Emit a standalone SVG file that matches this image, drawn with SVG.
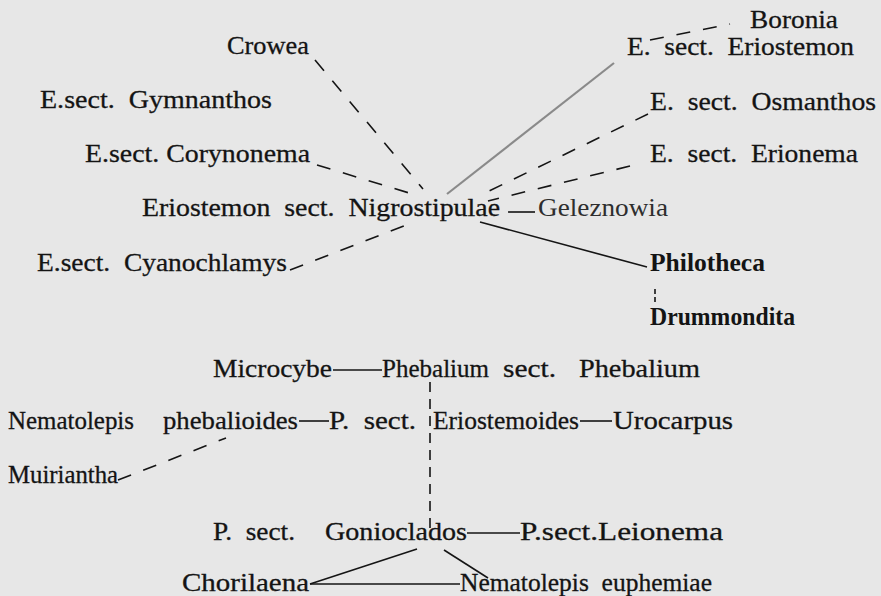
<svg xmlns="http://www.w3.org/2000/svg" width="881" height="596" viewBox="0 0 881 596">
<style>
text{font-family:"Liberation Serif","Times New Roman",serif;font-size:26px;fill:#141414;stroke:#141414;stroke-width:0.3;white-space:pre}
.b{font-weight:bold;stroke-width:0}
.l{fill:#2e2e2e;stroke-width:0}
.c{stroke:#151515;stroke-width:1.6;fill:none}
.d{stroke-dasharray:14 13}
.g{stroke:#8a8a8a;stroke-width:2.2}
</style>
<rect width="881" height="596" fill="#e7e7e7"/>
<g id="connectors">
<line class="c d" x1="315" y1="60" x2="423" y2="189"/>
<line class="c d" x1="317" y1="165" x2="419" y2="196"/>
<line class="c d" x1="290" y1="270" x2="414" y2="222"/>
<line class="c g" x1="447" y1="194" x2="614" y2="63"/>
<line class="c d" x1="650" y1="40" x2="730" y2="24"/>
<line class="c d" x1="648" y1="114" x2="485" y2="193"/>
<line class="c d" x1="630" y1="166" x2="488" y2="201"/>
<line class="c" x1="508" y1="212" x2="535" y2="212"/>
<line class="c" x1="480" y1="222" x2="647" y2="267"/>
<line class="c" x1="655" y1="289" x2="655" y2="302" stroke-dasharray="5 3"/>
<line class="c" x1="333" y1="370" x2="382" y2="370"/>
<line class="c" x1="430" y1="382" x2="430" y2="528" stroke-dasharray="10 7"/>
<line class="c" x1="299" y1="421" x2="329" y2="421"/>
<line class="c" x1="580" y1="421" x2="612" y2="421"/>
<line class="c d" x1="118" y1="480" x2="226" y2="438"/>
<line class="c" x1="467" y1="533" x2="520" y2="533"/>
<line class="c" x1="417" y1="549" x2="310" y2="584"/>
<line class="c" x1="444" y1="550" x2="488" y2="578"/>
<line class="c" x1="310" y1="584" x2="460" y2="584"/>
</g>
<g id="boronia"><text x="750" y="28" textLength="88" lengthAdjust="spacingAndGlyphs">Boronia</text></g>
<g id="eriostemon"><text x="627" y="55" textLength="227" lengthAdjust="spacingAndGlyphs">E.  sect.  Eriostemon</text></g>
<g id="crowea"><text x="227" y="54" textLength="82" lengthAdjust="spacingAndGlyphs">Crowea</text></g>
<g id="gymnanthos"><text x="40" y="108" textLength="232" lengthAdjust="spacingAndGlyphs">E.sect.  Gymnanthos</text></g>
<g id="osmanthos"><text x="650" y="110" textLength="226" lengthAdjust="spacingAndGlyphs">E.  sect.  Osmanthos</text></g>
<g id="corynonema"><text x="85" y="162" textLength="225" lengthAdjust="spacingAndGlyphs">E.sect. Corynonema</text></g>
<g id="erionema"><text x="650" y="162" textLength="208" lengthAdjust="spacingAndGlyphs">E.  sect.  Erionema</text></g>
<g id="nigrostipulae"><text x="142" y="216" textLength="358" lengthAdjust="spacingAndGlyphs">Eriostemon  sect.  Nigrostipulae</text></g>
<g id="geleznowia"><text class="l" x="538" y="216" textLength="130" lengthAdjust="spacingAndGlyphs">Geleznowia</text></g>
<g id="cyanochlamys"><text x="37" y="271" textLength="250" lengthAdjust="spacingAndGlyphs">E.sect.  Cyanochlamys</text></g>
<g id="philotheca"><text class="b" x="650" y="271" textLength="115" lengthAdjust="spacingAndGlyphs">Philotheca</text></g>
<g id="drummondita"><text class="b" x="650" y="325" textLength="145" lengthAdjust="spacingAndGlyphs">Drummondita</text></g>
<g id="microcybe"><text x="213" y="377" textLength="119" lengthAdjust="spacingAndGlyphs">Microcybe</text></g>
<g id="phebalium"><text y="377"><tspan x="382" textLength="107" lengthAdjust="spacingAndGlyphs">Phebalium</tspan><tspan x="503" textLength="53" lengthAdjust="spacingAndGlyphs">sect.</tspan><tspan x="579" textLength="121" lengthAdjust="spacingAndGlyphs">Phebalium</tspan></text></g>
<g id="nematolepis-phebalioides"><text y="429"><tspan x="8" textLength="126" lengthAdjust="spacingAndGlyphs">Nematolepis</tspan><tspan x="163" textLength="135" lengthAdjust="spacingAndGlyphs">phebalioides</tspan></text></g>
<g id="eriostemoides"><text y="429"><tspan x="329" textLength="87" lengthAdjust="spacingAndGlyphs">P.  sect.</tspan><tspan x="433" textLength="146" lengthAdjust="spacingAndGlyphs">Eriostemoides</tspan></text></g>
<g id="urocarpus"><text x="613" y="429" textLength="120" lengthAdjust="spacingAndGlyphs">Urocarpus</text></g>
<g id="muiriantha"><text x="8" y="483" textLength="110" lengthAdjust="spacingAndGlyphs">Muiriantha</text></g>
<g id="gonioclados"><text y="540"><tspan x="213" textLength="82" lengthAdjust="spacingAndGlyphs">P.  sect.</tspan><tspan x="325" textLength="142" lengthAdjust="spacingAndGlyphs">Gonioclados</tspan></text></g>
<g id="leionema"><text x="520" y="540" textLength="203" lengthAdjust="spacingAndGlyphs">P.sect.Leionema</text></g>
<g id="chorilaena"><text x="182" y="591" textLength="127" lengthAdjust="spacingAndGlyphs">Chorilaena</text></g>
<g id="nematolepis-euphemiae"><text x="460" y="591" textLength="252" lengthAdjust="spacingAndGlyphs">Nematolepis  euphemiae</text></g>
</svg>
